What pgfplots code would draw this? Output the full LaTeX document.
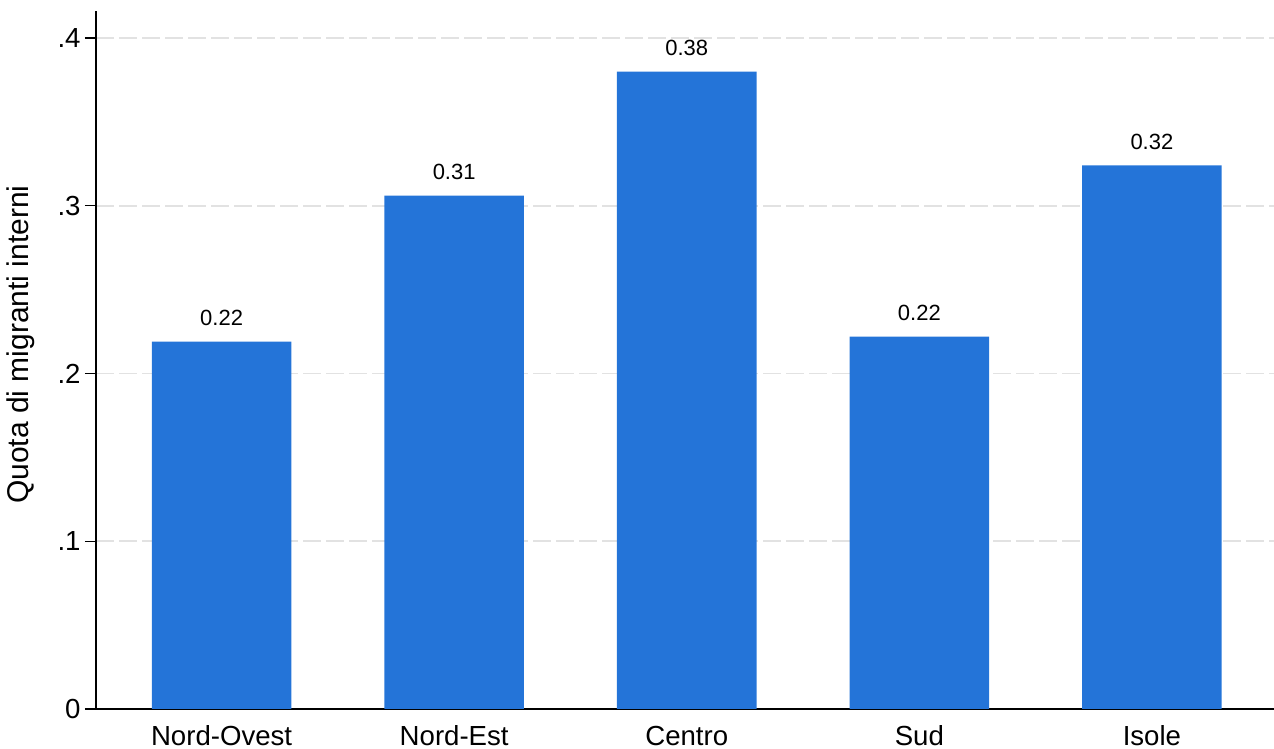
\documentclass[border=0pt]{standalone}
\usepackage{fontspec}
\setmainfont{Liberation Sans}
\usepackage{pgfplots}
\pgfplotsset{compat=1.18}
\definecolor{barblue}{HTML}{2474D8}
\definecolor{gridgray}{HTML}{E2E2E2}

\begin{document}
\begin{tikzpicture}
\begin{axis}[
  name=ax,
  scale only axis,
  width=589pt, height=349pt,
  xmin=-0.54, xmax=4.525,
  ymin=0, ymax=0.4161,
  axis x line=bottom, axis y line=left,
  axis line style={-, line width=0.9pt, black},
  /pgf/number format/assume math mode=true,
  xtick={0,1,2,3,4},
  xticklabels={Nord-Ovest,Nord-Est,Centro,Sud,Isole},
  x tick style={draw=none},
  xtick align=inside,
  xticklabel style={anchor=base, yshift=-13pt, font=\fontsize{13.8}{16}\selectfont},
  ytick={0,0.1,0.2,0.3,0.4},
  yticklabels={0,.1,.2,.3,.4},
  ytick align=outside,
  major tick length=5.5pt,
  y tick style={black, line width=0.7pt},
  yticklabel style={font=\fontsize{13.8}{16}\selectfont, inner sep=0pt, xshift=-2pt},
  ymajorgrids,
  grid style={gridgray, dash pattern=on 9pt off 2.5pt, line width=0.8pt},
  ylabel={Quota di migranti interni},
  ylabel style={at={(axis description cs:-0.057,0.522)}, anchor=base,
    font=\fontsize{15}{17}\selectfont},
  ybar, bar width=0.6,
  nodes near coords={\pgfmathprintnumber[fixed,fixed zerofill,precision=2]{\pgfplotspointmeta}},
  every node near coord/.append style={anchor=base, yshift=8pt,
    font=\fontsize{11}{13}\selectfont, text=black},
]
% share of internal migrants by macro-area
\addplot[fill=barblue, draw=none] coordinates {
  (0,0.219) (1,0.306) (2,0.380) (3,0.222) (4,0.324)
};
\end{axis}
\pgfresetboundingbox
\path ([xshift=-48pt,yshift=-20pt]ax.south west) rectangle ([yshift=5.5pt]ax.north east);
\end{tikzpicture}
\end{document}
